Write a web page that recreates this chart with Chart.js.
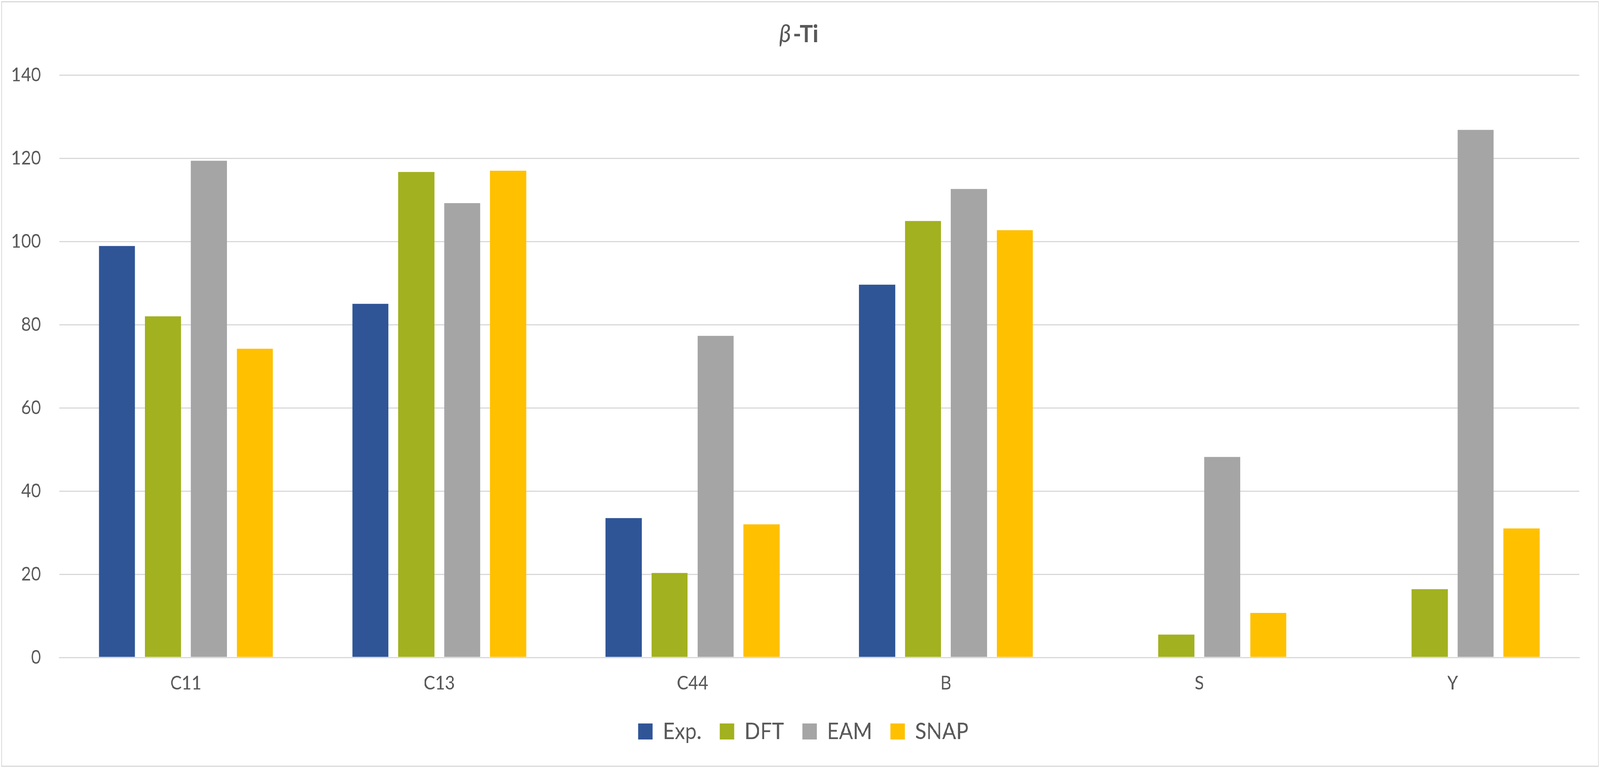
<!DOCTYPE html>
<html>
<head>
<meta charset="utf-8">
<script src="https://cdn.jsdelivr.net/npm/chart.js@4.4.1/dist/chart.umd.min.js"></script>
<style>
  html, body { margin: 0; padding: 0; background: #fff; overflow: hidden; }
  #wrap { position: absolute; left: 0; top: 0; width: 4565px; height: 1966px; transform-origin: 0 0; }
  #chart { display: block; }
  #frame { position: absolute; left: 3px; top: 3px; width: 4559px; height: 1960px;
           box-sizing: border-box; border: 3px solid #d9d9d9; pointer-events: none; }
</style>
</head>
<body>
<div id="wrap">
  <canvas id="chart" width="4565" height="1966"></canvas>
  <div id="frame"></div>
</div>
<script>
/* beta-Ti elastic constants */
const categories = ['C11', 'C13', 'C44', 'B', 'S', 'Y'];
const expVals  = [98.9, 85.0, 33.5, 89.6, null, null];
const dftVals  = [82.0, 116.7, 20.3, 104.9, 5.5, 16.4];
const eamVals  = [119.4, 109.2, 77.3, 112.6, 48.2, 126.8];
const snapVals = [74.2, 117.0, 32.0, 102.7, 10.7, 31.0];
const yTicks   = [0, 20, 40, 60, 80, 100, 120, 140];

const txt = '#595959';
const font = 'Lato, "Open Sans", sans-serif';

// page is laid out at 4565x1966, stretched to whatever the viewport really is
const wrap = document.getElementById('wrap');
wrap.style.transform = 'scale(' + (window.innerWidth / 4565) + ',' + (window.innerHeight / 1966) + ')';

// title with italic beta + bold "-Ti"
const titlePlugin = {
  id: 'mixedTitle',
  afterLayout(chart) {
    // nudge legend right a bit, like the original
    chart.legend.left += 39;
    chart.legend.right += 39;
  },
  afterDraw(chart) {
    const ctx = chart.ctx;
    ctx.save();
    ctx.fillStyle = txt;
    ctx.textBaseline = 'alphabetic';
    const f1 = 'italic 64px ' + font;
    const f2 = 'bold 62px ' + font;
    ctx.font = f1; const w1 = ctx.measureText('β').width;
    ctx.font = f2; const w2 = ctx.measureText('-Ti').width;
    const x0 = 2279 - (w1 + w2 + 6) / 2, base = 108;
    ctx.font = f1; ctx.fillText('β', x0, base);
    ctx.font = f2; ctx.fillText('-Ti', x0 + w1 + 6, base);
    ctx.restore();
  }
};

const ds = (label, data, color) => ({
  label, data, backgroundColor: color, borderWidth: 0,
  categoryPercentage: 0.725, barPercentage: 0.786
});

new Chart(document.getElementById('chart'), {
  type: 'bar',
  data: {
    labels: categories,
    datasets: [
      ds('Exp.', expVals, '#2F5597'),
      ds('DFT', dftVals, '#A2B11F'),
      ds('EAM', eamVals, '#A5A5A5'),
      ds('SNAP', snapVals, '#FFC000')
    ]
  },
  options: {
    responsive: false,
    devicePixelRatio: 1,
    animation: false,
    layout: { padding: { top: 192, right: 59, left: 0, bottom: 54 } },
    plugins: {
      title: { display: false },
      tooltip: { enabled: false },
      legend: {
        position: 'bottom',
        labels: {
          color: txt, font: { size: 59, family: font },
          boxWidth: 41, boxHeight: 41, padding: 52
        }
      }
    },
    scales: {
      x: {
        afterFit(scale) { scale.height = 108; },
        grid: { display: false, drawTicks: false },
        border: { display: true, color: '#d9d9d9', width: 3 },
        ticks: { color: txt, font: { size: 49, family: font }, padding: 37 }
      },
      y: {
        min: 0, max: 140,
        afterFit(scale) { scale.width = 169; },
        afterBuildTicks(scale) { scale.ticks = yTicks.map(v => ({ value: v })); },
        grid: { color: '#d9d9d9', lineWidth: 3, drawTicks: false },
        border: { display: false },
        ticks: { color: txt, font: { size: 49, family: font }, padding: 52 }
      }
    }
  },
  plugins: [titlePlugin]
});
</script>
</body>
</html>
